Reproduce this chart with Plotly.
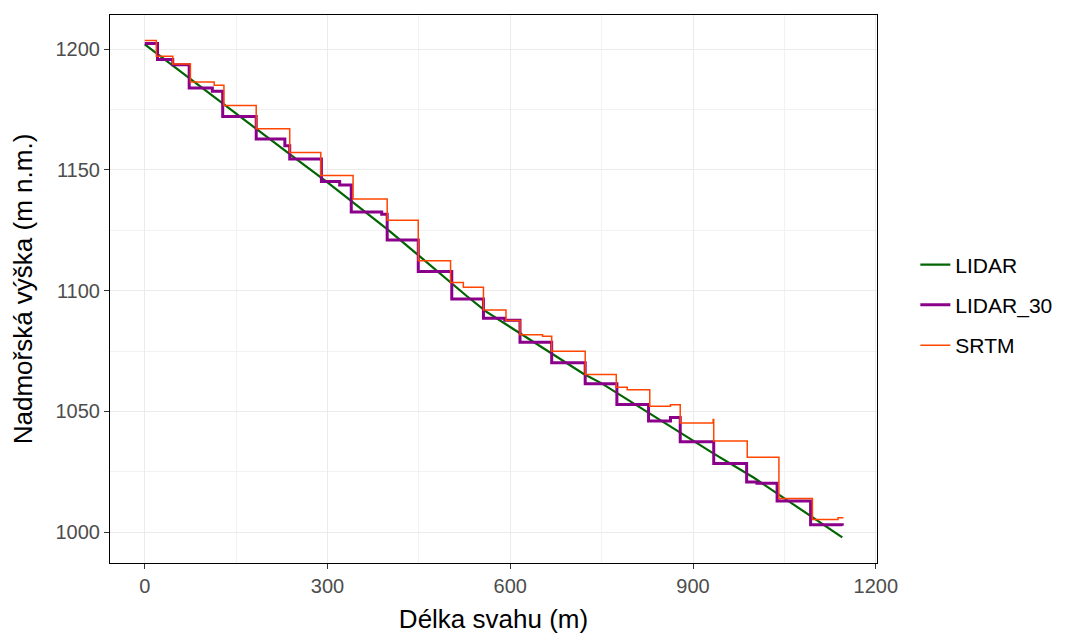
import plotly.graph_objects as go

# LIDAR profile (continuous)
lidar_x = [0, 50, 100, 150, 183, 250, 300, 361, 400, 450, 500, 528, 560, 600, 650,
           700, 720, 750, 800, 850, 900, 934, 1000, 1050, 1100, 1145]
lidar_y = [1202.0, 1192.4, 1182.8, 1173.2, 1166.8, 1154.3, 1144.9, 1133.0, 1125.1, 1114.5,
           1103.8, 1097.9, 1091.4, 1085.0, 1077.0, 1068.9, 1065.6, 1061.6, 1053.8, 1045.9,
           1037.9, 1032.5, 1022.5, 1014.0, 1005.5, 997.8]

# LIDAR_30 (step)
l30_x = [0, 21, 46, 73, 111, 128, 183, 230, 238, 290, 320, 339, 389, 398, 449, 504, 556,
         591, 616, 668, 723, 775, 827, 863, 879, 934, 988, 1005, 1038, 1093, 1145]
l30_y = [1202.4, 1195.8, 1193.6, 1184.0, 1182.6, 1172.2, 1162.8, 1160.0, 1154.5, 1145.2,
         1143.8, 1132.6, 1131.7, 1121.0, 1108.0, 1096.6, 1088.6, 1087.8, 1078.6, 1070.2,
         1061.4, 1052.9, 1046.0, 1047.5, 1037.4, 1028.4, 1020.8, 1020.2, 1012.9, 1003.0, 1002.6]

# SRTM (step)
srtm_x = [0, 19, 46, 75, 114, 130, 183, 238, 289, 342, 398, 449, 502, 523, 556, 593, 616,
          653, 668, 723, 774, 792, 829, 863, 879, 933, 934, 989, 1041, 1096, 1138, 1147]
srtm_y = [1203.6, 1197.1, 1193.9, 1186.4, 1185.1, 1176.7, 1167.1, 1157.2, 1147.7, 1138.0,
          1129.2, 1112.4, 1103.4, 1101.4, 1092.0, 1087.6, 1081.8, 1081.1, 1074.9, 1065.3,
          1060.0, 1059.0, 1052.1, 1052.8, 1045.2, 1046.6, 1037.7, 1031.0, 1013.9, 1005.2,
          1005.9, 1005.9]

x_ticks = [0, 300, 600, 900, 1200]
y_ticks = [1000, 1050, 1100, 1150, 1200]

FONT = "Liberation Sans, Arial"

fig = go.Figure()
fig.add_trace(go.Scatter(x=lidar_x, y=lidar_y, mode="lines", name="LIDAR",
                         legendgroup="a",
                         line=dict(color="#006400", width=2.2)))
fig.add_trace(go.Scatter(x=l30_x, y=l30_y, mode="lines", name="LIDAR_30",
                         legendgroup="b",
                         line=dict(color="#8B008B", width=3, shape="hv")))
fig.add_trace(go.Scatter(x=srtm_x, y=srtm_y, mode="lines", name="SRTM",
                         legendgroup="c",
                         line=dict(color="#FF4500", width=1.5, shape="hv")))

axis_common = dict(
    showline=True, linecolor="black", linewidth=1, mirror=True,
    showgrid=True, gridcolor="#EBEBEB", gridwidth=1.1,
    ticks="outside", ticklen=5, tickcolor="#333333", tickwidth=1,
    tickfont=dict(family=FONT, size=20, color="#4D4D4D"),
    zeroline=False, automargin=False,
)

fig.update_layout(
    width=1062, height=626,
    margin=dict(l=102, r=193, t=7, b=71),
    plot_bgcolor="white", paper_bgcolor="white",
    font=dict(family=FONT, color="black"),
    xaxis=dict(range=[-57, 1202], tickvals=x_ticks,
               minor=dict(tickvals=[150, 450, 750, 1050], showgrid=True,
                          gridcolor="#F2F2F2", gridwidth=0.6, ticks=""),
               title=dict(text="Délka svahu (m)", font=dict(size=26, color="black"), standoff=13),
               **axis_common),
    yaxis=dict(range=[987.2, 1214.2], tickvals=y_ticks,
               minor=dict(tickvals=[1025, 1075, 1125, 1175], showgrid=True,
                          gridcolor="#F2F2F2", gridwidth=0.6, ticks=""),
               title=dict(text="Nadmořská výška (m n.m.)", font=dict(size=26, color="black"), standoff=17),
               **axis_common),
    legend=dict(x=1.05, y=0.471, xanchor="left", yanchor="middle",
                font=dict(size=21, color="black"), tracegroupgap=10,
                bgcolor="rgba(0,0,0,0)"),
)

fig.write_html("out.html")
